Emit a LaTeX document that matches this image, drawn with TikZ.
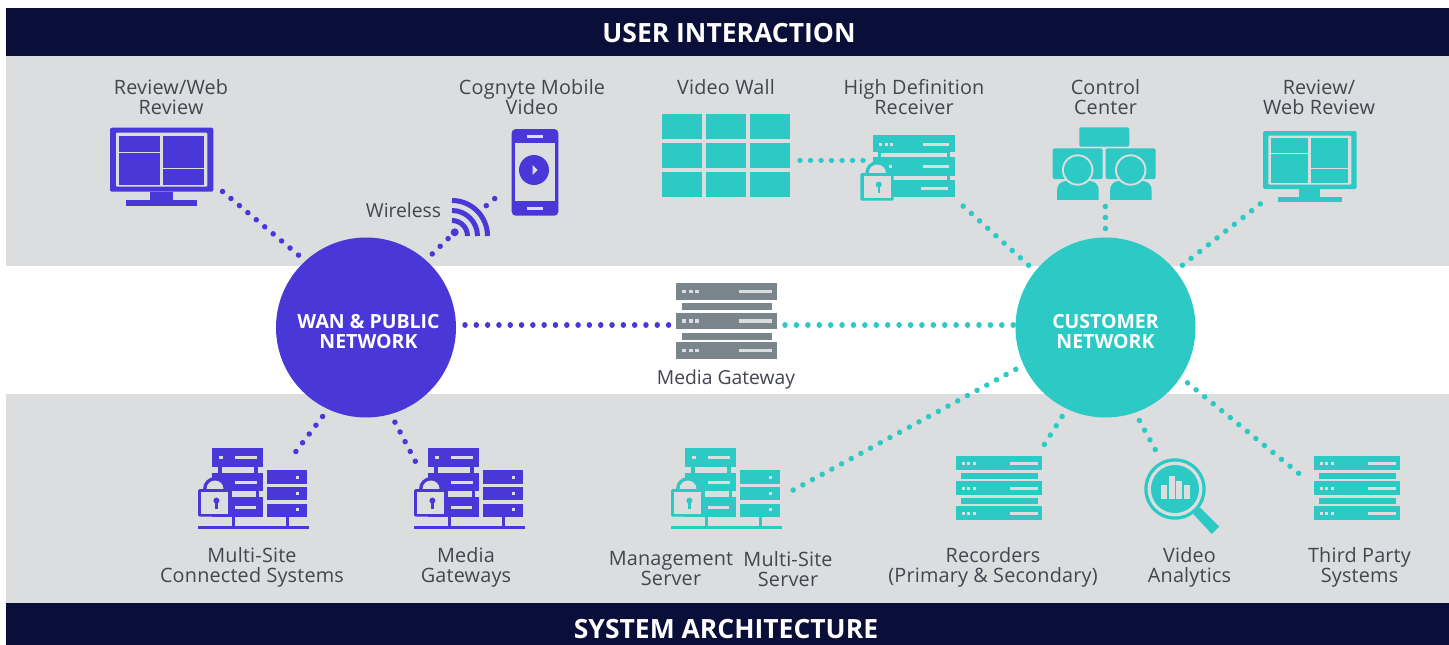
\documentclass[tikz,border=0pt]{standalone}
\usepackage{fontspec}
\setmainfont{Open Sans}
\newfontfamily\capfont[LetterSpace=1.0]{Open Sans}
\definecolor{navy}{HTML}{0A0F3A}
\definecolor{band}{HTML}{DCDDDF}
\definecolor{wanc}{HTML}{4A37D8}
\definecolor{custc}{HTML}{2CC9C5}
\definecolor{gatec}{HTML}{7A868C}
\definecolor{labelc}{HTML}{43454F}

% rack of three rows with a bar between them
\newcommand\rackicon[4]{
  \begin{scope}[shift={(#2,#3)},scale=#4]
    \foreach \r in {0,25,50} {
      \fill[#1] (0,\r) rectangle (85.4,\r+14);
      \foreach \s in {5.4,11,16.4} \fill[band] (\s,\r+5.5) rectangle (\s+3,\r+8.5);
      \fill[band] (53.7,\r+5.5) rectangle (81.7,\r+8.5);
    }
    \foreach \r in {16.7,41.7} \fill[#1] (4.7,\r) rectangle (81.7,\r+6);
  \end{scope}
}
% monitor with four panes
\newcommand\monitoricon[4]{
  \begin{scope}[shift={(#2,#3)},scale=#4]
    \fill[#1,rounded corners=2pt] (0,0) rectangle (103.3,64);
    \fill[band,rounded corners=1pt] (6,5) rectangle (97.3,59);
    \fill[#1] (9,8) rectangle (50,24);
    \fill[#1] (9,25.3) rectangle (50,57.3);
    \fill[#1] (53,8) rectangle (94,40.3);
    \fill[#1] (53,41.7) rectangle (94,57.3);
    \fill[#1] (40,64) rectangle (63.3,72.3);
    \fill[#1] (16.3,72.3) rectangle (87,78.3);
  \end{scope}
}
% padlock, body corner at 0,0
\newcommand\lockicon[3]{
  \begin{scope}[shift={(#2,#3)}]
    \fill[#1] (17,0) circle (12pt);
    \fill[band] (17,0) circle (8.5pt);
    \fill[#1,rounded corners=1.5pt] (0,0) rectangle (33.4,27.7);
    \fill[band] (3.3,3) rectangle (30.4,24.7);
    \fill[#1] (18.4,11.6) circle (3pt);
    \draw[#1,line width=2.4pt] (18.4,12) -- (18.4,20);
  \end{scope}
}
% locked rack, second stack and base line
\newcommand\siteicon[3]{
  \begin{scope}[shift={(#2,#3)}]
    \fill[#1] (14.3,0) rectangle (65.3,19);
    \fill[#1] (14.3,24.4) rectangle (65.3,43);
    \fill[#1] (14.3,48.4) rectangle (65.3,68.4);
    \fill[#1] (20.3,19) rectangle (23.7,24.4);
    \fill[#1] (56,19) rectangle (59.7,24.4);
    \fill[#1] (58,43) rectangle (61,48.4);
    \fill[#1] (32,43) rectangle (34,48.4);
    \fill[band] (21,7.6) rectangle (24.5,11);
    \foreach \r/\w in {9.4/58.7,34/58.7,58.7/57.7} \fill[band] (37,\r-1.5) rectangle (\w,\r+1.5);
    \fill[band] (37,44.5) rectangle (55,47);
    \foreach \r/\h/\q in {22/13.7/29.4,39/12.7/45,55.4/13/61} {
      \fill[#1] (69.3,\r) rectangle (109.3,\r+\h);
      \fill[band] (97.5,\q-1.7) rectangle (101,\q+1.7);
    }
    \fill[#1] (0,77.4) rectangle (110.7,80.7);
    \fill[#1] (33.7,68.4) rectangle (37,77.4);
    \fill[#1] (88,68.4) rectangle (91.3,77.4);
    \lockicon{#1}{0}{40.7}
  \end{scope}
}

\tikzset{
  barlabel/.style={text=white,font=\fontsize{26.5}{28}\selectfont\bfseries},
  hub/.style={circle,minimum size=180pt,inner sep=0pt,outer sep=9pt},
  hublabel/.style={text=white,align=center,inner sep=0pt,font=\fontsize{19.5}{20}\selectfont\bfseries},
  caption/.style={text=labelc,align=center,inner sep=0pt,font=\capfont\fontsize{19.8}{20}\selectfont},
  plaincap/.style={text=labelc,align=center,inner sep=0pt,font=\fontsize{19.3}{20}\selectfont},
  dots/.style={line width=5.5pt,line cap=round,dash pattern=on 0.01pt off #1},
  dots/.default=11pt
}

\begin{document}
\begin{tikzpicture}[x=1pt,y=-1pt]
    \useasboundingbox (0,0) rectangle (1449,645);
    \fill[white] (0,0) rectangle (1449,645);

    % bands
    \fill[band] (6,56) rectangle (1449,266);
    \fill[band] (6,394) rectangle (1449,603);
    \fill[navy] (6,8) rectangle (1449,56);
    \fill[navy] (6,603) rectangle (1449,645);
    \node[barlabel] (user_bar) at (729,33) {USER INTERACTION};
    \node[barlabel] (arch_bar) at (726,629) {SYSTEM ARCHITECTURE};

    % hubs
    \node[hub,fill=wanc] (wan) at (366,327.5) {};
    \node[hub,fill=custc] (cust) at (1105.5,327.5) {};
    \node[hublabel] (wan_txt) at (368.5,332) {WAN \& PUBLIC\\NETWORK};
    \node[hublabel] (cust_txt) at (1105.5,332) {CUSTOMER\\NETWORK};

    % purple icons
    \monitoricon{wanc}{110}{127.7}{1}
    \siteicon{wanc}{198}{448.3}
    \siteicon{wanc}{414}{448.3}
    \fill[wanc,rounded corners=4pt] (511.7,129) rectangle (558.3,215.7);
    \fill[band] (515,143.3) rectangle (555,201);
    \fill[band] (526.7,135) rectangle (543.3,138.3);
    \fill[band] (526.7,207) rectangle (543.3,210.3);
    \fill[wanc] (534,170) circle (15pt);
    \fill[band] (532.7,165) -- (537.7,170) -- (532.7,175) -- cycle;
    % wifi arcs
    \foreach \r in {15.5,25.5,35.5}
      \draw[wanc,line width=5pt] (452+\r,236) arc[start angle=0,end angle=90,radius=\r pt];
    \fill[wanc] (454.7,232.3) circle (4pt);

    % teal icons
    \foreach \c in {662,706,750}
      \foreach \d in {114,143,172}
        \fill[custc] (\c,\d) rectangle (\c+40,\d+25);
    \siteicon{custc}{671}{448.3}
    \monitoricon{custc}{1263}{131}{0.907}
    \rackicon{custc}{956.3}{456.3}{1}
    \rackicon{custc}{1314.3}{456.3}{1}
    \rackicon{gatec}{676}{283.3}{1.18}

    % high definition receiver
    \fill[custc] (873,135) rectangle (955,152);
    \fill[custc] (873,157) rectangle (955,197);
    \fill[custc] (878,152) rectangle (950,157);
    \fill[band] (881,153) rectangle (946.7,157);
    \fill[band] (893,175.5) rectangle (946.7,179.5);
    \fill[band] (950,175.5) rectangle (955,179.5);
    \foreach \s in {879,884.5,890} \fill[band] (\s,142.5) rectangle (\s+3,145.5);
    \fill[band] (923,142.5) rectangle (949,145.5);
    \fill[band] (889,164.5) rectangle (892,167.5);
    \fill[band] (923,164.5) rectangle (949,167.5);
    \fill[band] (921,187) rectangle (948,190);
    \lockicon{custc}{860.3}{173}

    % control center
    \fill[custc,rounded corners=2pt] (1079.3,127.3) rectangle (1129.3,146.7);
    \foreach \c in {1052.7,1105.7} {
      \fill[custc,rounded corners=2pt] (\c,148.3) rectangle (\c+50,179);
      \fill[custc,rounded corners=9pt] (\c+4.3,181) rectangle (\c+46,212);
      \fill[band] (\c,200) rectangle (\c+50,214);
      \fill[band] (\c+25,170) circle (15.7pt);
      \fill[custc] (\c+25,170) circle (13.7pt);
    }

    % video analytics
    \fill[custc] (1193.3,514) -- (1200,507.3) -- (1219.3,526.7) -- (1211.7,534) -- cycle;
    \fill[custc] (1175,489) circle (30.7pt);
    \fill[band] (1175,489) circle (27.4pt);
    \fill[custc] (1175,489) circle (24pt);
    \foreach \c/\t in {1161/485,1168.7/476,1176/481.3,1183.7/485}
      \fill[band] (\c,\t) rectangle (\c+6,499.3);

    % free ends of the connectors
    \coordinate (rev_end) at (222,191);
    \coordinate (air_end) at (454.7,232.3);
    \coordinate (air_out) at (486.3,205.7);
    \coordinate (mob_end) at (502.5,192);
    \coordinate (gw_w) at (673,325);
    \coordinate (gw_e) at (785,325);
    \coordinate (cust_w) at (1015,325);
    \coordinate (wan_e) at (465,325);
    \coordinate (site_end) at (290.7,458.3);
    \coordinate (mg_end) at (417.3,465);
    \coordinate (wall_end) at (800,160.3);
    \coordinate (hd_w) at (864,160.3);
    \coordinate (hd_end) at (962.5,205.5);
    \coordinate (cc_end) at (1105.3,206);
    \coordinate (rev2_end) at (1264,201);
    \coordinate (mgmt_end) at (785,494.5);
    \coordinate (rec_end) at (1042.3,447.7);
    \coordinate (ana_end) at (1157.3,453.3);
    \coordinate (tp_end) at (1306,479.3);

    % purple links
    \draw[dots,wanc] (wan.133.4) -- (rev_end);
    \draw[dots,wanc] (wan.48.4) -- (air_end);
    \draw[dots,wanc] (air_out) -- (mob_end);
    \draw[dots=11.3pt,wanc] (wan_e) -- (gw_w);
    \draw[dots,wanc] (wan.-116) -- (site_end);
    \draw[dots,wanc] (wan.-73) -- (mg_end);

    % teal links
    \draw[dots=11.4pt,custc] (gw_e) -- (cust_w);
    \draw[dots=10.5pt,custc] (wall_end) -- (hd_w);
    \draw[dots,custc] (cust.141) -- (hd_end);
    \draw[dots,custc] (cust.north) -- (cc_end);
    \draw[dots,custc] (cust.39.5) -- (rev2_end);
    \draw[dots,custc] (cust.-155) -- (mgmt_end);
    \draw[dots,custc] (cust.-116.3) -- (rec_end);
    \draw[dots,custc] (cust.-70) -- (ana_end);
    \draw[dots,custc] (cust.-34) -- (tp_end);

    % labels
    \node[caption] (lb_rev) at (171,97) {Review/Web\\Review};
    \node[caption] (lb_mob) at (532,97) {Cognyte Mobile\\Video};
    \node[caption] (lb_wall) at (726,87) {Video Wall};
    \node[caption] (lb_hd) at (914,97) {High Definition\\Receiver};
    \node[caption] (lb_cc) at (1105.5,97) {Control\\Center};
    \node[caption] (lb_rev2) at (1319,97) {Review/\\Web Review};
    \node[plaincap] (lb_air) at (403.5,210) {Wireless};
    \node[plaincap] (lb_gw) at (726,379) {Media Gateway};
    \node[caption] (lb_site) at (252,567) {Multi-Site\\Connected Systems};
    \node[caption] (lb_mg) at (466,567) {Media\\Gateways};
    \node[caption] (lb_mgmt) at (671,569) {Management\\Server};
    \node[caption] (lb_mss) at (788,569) {Multi-Site\\Server};
    \node[caption] (lb_rec) at (993,567) {Recorders\\(Primary \& Secondary)};
    \node[caption] (lb_ana) at (1189.5,567) {Video\\Analytics};
    \node[caption] (lb_tp) at (1359.5,567) {Third Party\\Systems};
\end{tikzpicture}
\end{document}
